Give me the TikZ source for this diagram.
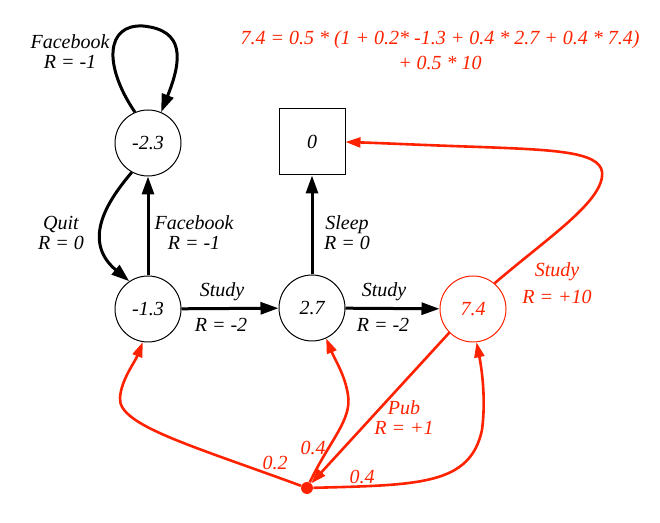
\documentclass[tikz,border=0pt]{standalone}
\usepackage{fontspec}
\setmainfont{Liberation Serif}
\usetikzlibrary{arrows.meta}
\definecolor{rd}{RGB}{255,34,0}
\begin{document}
\begin{tikzpicture}[x=0.5pt,y=-0.5pt,
  font=\fontsize{10}{10}\selectfont\itshape,
  state/.style={circle, draw, line width=0.5pt, minimum size=33pt, inner sep=0pt},
  term/.style={rectangle, draw, line width=0.5pt, minimum size=33pt, inner sep=0pt},
  dotn/.style={circle, fill=rd, minimum size=6pt, inner sep=0pt},
  blk/.style={line width=1.5pt, -{Triangle[length=9pt,width=6pt]}},
  redc/.style={draw=rd, line width=1.3pt, -{Triangle[length=7.5pt,width=5pt]}},
  lbl/.style={align=center, inner sep=0pt},
  rlbl/.style={align=center, inner sep=0pt, text=rd}]
\useasboundingbox (0,0) rectangle (660,523);
% states
\node[state] (n23) at (148,143) {-2.3};
\node[state] (n13) at (148,309) {-1.3};
\node[state] (n27) at (312,308) {2.7};
\node[state, draw=rd, text=rd] (n74) at (473,309) {7.4};
\node[term] (sq) at (312,142) {0};
\node[dotn] (dot) at (307,488) {};
% black connectors
\draw[blk] (n23.113) .. controls (103,65) and (106,24) .. (143,26)
  .. controls (185,30) and (182,60) .. (n23.67);
\draw[blk] (n23.241) .. controls (110,198) and (80,240) .. (n13.124);
\draw[blk] (n13) -- (n23);
\draw[blk] (n13) -- (n27);
\draw[blk] (n27) -- (sq);
\draw[blk] (n27) -- (n74);
% red connectors
\draw[redc] (n74.50) .. controls (545,240) and (598,205) .. (602,177)
  .. controls (606,152) and (560,150) .. (480,147)
  .. controls (420,145) and (380,143) .. (sq.east);
\draw[redc] (n74.225) -- (dot);
\draw[redc] (dot) .. controls (190,445) and (118,425) .. (120,398)
  .. controls (121,380) and (135,362) .. (n13.261);
\draw[redc] (dot) .. controls (330,440) and (352,420) .. (348,395)
  .. controls (345,375) and (335,360) .. (n27.295);
\draw[redc] (dot) .. controls (420,485) and (470,485) .. (482,430)
  .. controls (486,400) and (482,370) .. (n74.276);
% labels
\node[lbl] (lfb1) at (70,52) {Facebook\\R = -1};
\node[lbl] (lquit) at (61,233) {Quit\\R = 0};
\node[lbl] (lfb2) at (194,233) {Facebook\\R = -1};
\node[lbl] (lsleep) at (347,233) {Sleep\\R = 0};
\node[lbl] (ls1) at (222,292) {Study};
\node[lbl] (lr1) at (221,325) {R = -2};
\node[lbl] (ls2) at (384,292) {Study};
\node[lbl] (lr2) at (383,325) {R = -2};
\node[rlbl] (ls3) at (557,272) {Study};
\node[rlbl] (lr3) at (557,297) {R = +10};
\node[rlbl] (lpub) at (404,418) {Pub\\R = +1};
\node[rlbl] (p02) at (275,463) {0.2};
\node[rlbl] (p04a) at (313,448) {0.4};
\node[rlbl] (p04b) at (362,477) {0.4};
\node[rlbl, font=\fontsize{10}{12.5}\selectfont\itshape] (eq) at (440,50)
  {7.4 = 0.5 * (1 + 0.2* -1.3 + 0.4 * 2.7 + 0.4 * 7.4)\\+ 0.5 * 10};
\end{tikzpicture}
\end{document}
